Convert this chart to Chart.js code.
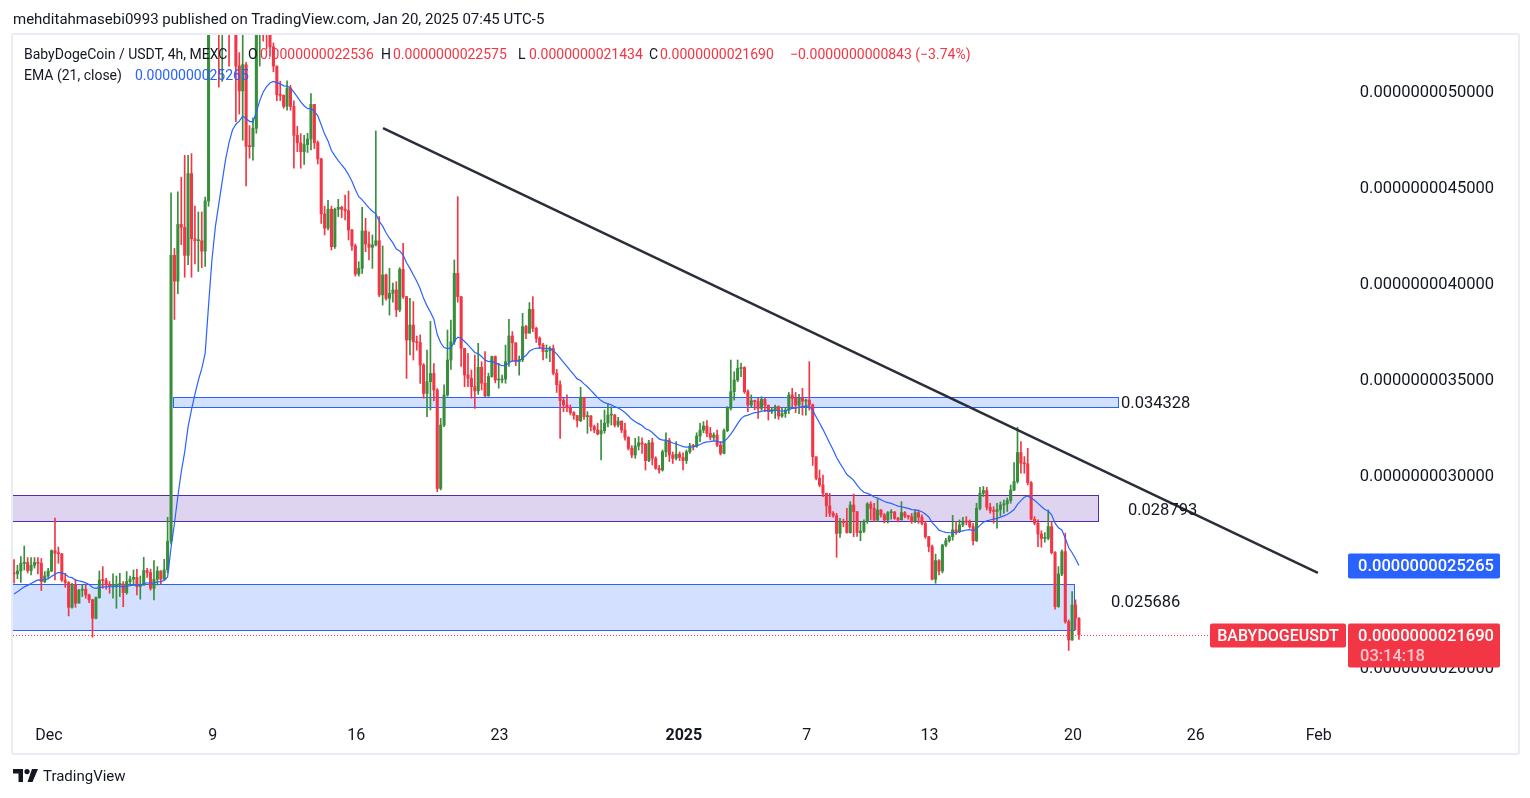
<!DOCTYPE html>
<html lang="en">
<head>
    <meta charset="UTF-8">
    <title>BabyDogeCoin / USDT, 4h, MEXC</title>
    <script src="https://cdn.jsdelivr.net/npm/chart.js"></script>
    <style>
        body {
            margin: 0;
            background-color: #fff;
            font-family: Roboto, Arial, sans-serif;
            color: #131722;
        }
        #wrap {
            position: relative;
            width: 1530px;
            height: 798px;
            overflow: hidden;
        }
        .pane {
            position: absolute;
            left: 11px;
            top: 33px;
            width: 1505px;
            height: 718px;
            border: 2px solid #e9ecf2;
            border-radius: 3px;
        }
        canvas {
            position: absolute;
            left: 0;
            top: 0;
        }
        .hdr {
            position: absolute;
            left: 13px;
            top: 10px;
            font-size: 15px;
            white-space: nowrap;
        }
        .lg {
            position: absolute;
            font-size: 14px;
            line-height: 20px;
            white-space: nowrap;
        }
        .r { color: #f23645; }
        .b { color: #2962ff; }
        .footer {
            position: absolute;
            left: 13px;
            top: 767px;
            font-size: 15px;
            white-space: nowrap;
        }
        .footer svg {
            vertical-align: -1px;
            margin-right: 5px;
        }
    </style>
</head>
<body>
<div id="wrap">
    <div class="pane"></div>
    <canvas id="chart" width="1530" height="798"></canvas>
    <div class="hdr">mehditahmasebi0993 published on TradingView.com, Jan 20, 2025 07:45 UTC-5</div>
    <div class="lg" style="left:24px;top:44px">BabyDogeCoin / USDT, 4h, MEXC</div>
    <div class="lg" style="left:248px;top:44px">O</div>
    <div class="lg r" style="left:260px;top:44px">0.0000000022536</div>
    <div class="lg" style="left:381px;top:44px">H</div>
    <div class="lg r" style="left:393px;top:44px">0.0000000022575</div>
    <div class="lg" style="left:518px;top:44px">L</div>
    <div class="lg r" style="left:529px;top:44px">0.0000000021434</div>
    <div class="lg" style="left:649px;top:44px">C</div>
    <div class="lg r" style="left:660px;top:44px">0.0000000021690</div>
    <div class="lg r" style="left:790px;top:44px">&minus;0.0000000000843 (&minus;3.74%)</div>
    <div class="lg" style="left:24px;top:65px">EMA (21, close)</div>
    <div class="lg b" style="left:135px;top:65px">0.0000000025265</div>
    <div class="footer"><svg width="25" height="13" viewBox="0 0 25 13"><path d="M0 0H10V13H5.5V4.5H0Z" fill="#131722"/><circle cx="14" cy="2.6" r="2.6" fill="#131722"/><path d="M19 0H25L19.5 13H14.5Z" fill="#131722"/></svg>TradingView</div>
</div>
<script>
    // prices are in units of 0.00000000001 USDT
    const UNIT = 1e-11;

    // 4h candles, x in days from 1 Dec 2024 (first candle 29 Nov 07:00, UTC-5)
    const firstCandle = -1.7083;
    const candleStep = 1 / 6;
    const firstOpen = 249;

    const closes = [
        248.5, 250, 254, 254.4, 250.2, 253, 254.4, 254, 244.5, 247.4,
        250, 260.6, 259.3, 259, 245.3, 244, 231.1, 243, 233.2, 240,
        240.5, 237.5, 235, 225.4, 236.1, 245.3, 245, 243, 242, 242.5,
        243, 243.2, 238.7, 244.5, 245.8, 246.7, 241.9, 242.5, 250.2, 249.2,
        241, 245.7, 250, 245.7, 250.6, 265.5, 414.4, 401, 430.5, 429,
        414.4, 457, 423, 422, 422, 416.6, 442.8, 640, 650, 600,
        560, 570, 580, 560, 545, 513, 500, 513.7, 471.2, 471,
        480.6, 540, 555, 545, 530, 523, 513, 498, 497.7, 492,
        501.5, 492, 476.9, 473, 468.4, 472.1, 475, 493, 473.1, 464.6,
        436, 428.6, 438.4, 418.9, 438.4, 439.4, 438.4, 437.7, 427.6, 419.3,
        404.7, 407.6, 427.1, 420.3, 418.6, 419.8, 422, 393.8, 404.2, 392,
        394.6, 396.4, 386, 407.1, 392.9, 370.3, 378.1, 369.4, 369, 357.3,
        342.5, 348.6, 352.9, 344.3, 293, 326, 341.7, 359.9, 369.4, 405,
        392.9, 366, 352.1, 350.4, 346, 343.8, 356.1, 347.8, 341.2, 351.3,
        361.7, 349.5, 349.5, 350, 359, 372.4, 368.8, 359.1, 360, 377.3,
        373.8, 386.3, 376.4, 371.2, 367.7, 364.3, 364.8, 366, 353, 347,
        338.8, 336.5, 335, 332.5, 331, 328.3, 340.5, 330.4, 330.8, 325.2,
        323.5, 321.4, 323.1, 327, 331.2, 331.2, 326, 328.1, 323.4, 319.6,
        313.9, 310.4, 315.1, 316.8, 316, 307.5, 316.8, 308.7, 303.5, 302.6,
        312.1, 317.9, 310.4, 308.7, 310.9, 309.2, 307.5, 312.1, 315.1, 314.9,
        320.3, 323.4, 325.5, 321.7, 319.6, 320.8, 315.6, 311.3, 323.1, 334.7,
        343.4, 349.5, 355.5, 356, 343.4, 336.4, 338.7, 338.3, 334.7, 339.4,
        336.4, 333, 334, 335.6, 330.7, 332, 333.8, 341.7, 339.9, 336.4,
        340, 338.5, 339, 336.5, 309.5, 298.3, 294.8, 290.5, 283.9, 280,
        278.8, 269.6, 275.7, 275.2, 270, 284.4, 280.9, 270, 270.8, 275.7,
        284.9, 282.6, 276.6, 281.8, 279.2, 276.6, 280.4, 280.8, 277.4, 276.6,
        280.4, 278.6, 278.3, 275.7, 280.4, 278, 274.8, 267.9, 262.7, 245.7,
        255.4, 250, 263.5, 265.8, 267.9, 271.4, 270.5, 274, 275.7, 275.5,
        273.1, 265.8, 282.7, 290.5, 291.9, 283.2, 281.5, 281, 282, 284.4,
        285, 286.7, 292.2, 296.6, 311.7, 306.1, 305.8, 296, 277, 274.9,
        269.3, 267, 267, 273.1, 259.6, 231.5, 248.5, 260.1, 223.6, 214.1,
        232.3, 225.36, 216.9
    ];

    const highs = [
        256, 253, 257.5, 263, 257, 257, 257, 257, 256.5, 249.7,
        251.4, 261, 277.5, 262.5, 259, 248.8, 244.5, 243.6, 245.7, 240.5,
        243, 242.7, 238, 235.3, 236.5, 250, 252.3, 246.2, 244.5, 248.5,
        247.4, 248.8, 244.5, 249.7, 247.4, 250.5, 250.9, 247.4, 257.1, 251.4,
        251, 255.4, 252.3, 250.2, 256.1, 278, 447, 418, 447.5, 455,
        466.5, 466.5, 467.4, 440, 437, 437, 444.7, 660, 690, 660,
        610, 600, 610, 595, 575, 560, 520, 530, 515, 482,
        486, 575, 590, 570, 548, 535, 525, 513, 505, 498,
        505.3, 503, 494.9, 481.6, 477.8, 476.9, 478, 498.7, 493, 474,
        465, 440, 443, 440, 439, 443.6, 440, 445.8, 447.9, 428,
        420.3, 411.1, 439.4, 433.7, 426.7, 425, 479.2, 434.6, 419.3, 404.7,
        407.6, 400, 400.7, 408, 420.7, 393, 392, 390.3, 372.4, 373,
        358, 365, 380, 358, 345, 329.5, 347, 375.5, 380.7, 412,
        445, 393, 366, 363.4, 354.7, 362.5, 368.6, 359, 364.3, 353,
        362, 362, 358.2, 352, 367.7, 381.1, 374.7, 369, 362, 384.2,
        378, 389.8, 392.9, 377, 372, 368.6, 367.7, 366.9, 367.7, 355,
        349, 340, 341.7, 336.5, 333, 331, 345.7, 340.5, 333, 331,
        326, 326.9, 328.7, 333.9, 337.3, 335.6, 331.6, 330, 328.1, 326.9,
        320, 315.3, 319.1, 320, 319.4, 316.5, 318, 319.1, 309.5, 305,
        313, 322, 319.1, 312, 317.4, 312, 311.6, 313, 316.5, 316,
        322, 326.9, 327.8, 328.3, 324.8, 322, 323.4, 317.4, 324, 335.6,
        359.9, 353.8, 359.9, 358.1, 356.4, 344.3, 341.7, 339, 339.9, 340.8,
        339.9, 336.4, 335, 336.4, 336, 335, 335, 343, 345.1, 343,
        342, 345.1, 339.5, 359, 337, 309.5, 302.6, 300, 290.4, 290.4,
        281, 280, 277.4, 277, 282.6, 286.1, 290.1, 281, 275.7, 276.6,
        285.6, 286.1, 285.2, 287.3, 282, 280, 281, 282, 280.9, 278,
        286.1, 280.9, 279, 280, 281.8, 281.8, 279.2, 275.7, 268, 263.5,
        258.8, 256, 264, 267, 268.5, 279, 275.7, 276.6, 278, 278.3,
        276.6, 274.8, 285.3, 293.6, 294, 293.6, 285.3, 283.5, 285.3, 286,
        287, 288, 294.8, 306.5, 324.9, 317.4, 309.6, 313.9, 296.6, 278.3,
        276.6, 271, 270, 281.8, 275.7, 260.1, 252.3, 261, 269.7, 224.5,
        239.3, 235, 225.75
    ];

    const lows = [
        243.6, 246, 244, 250.5, 249, 248, 251.5, 248.5, 239.8, 243.9,
        246.2, 249.7, 245.3, 254, 244.5, 241.5, 226.6, 230.6, 231.1, 233.5,
        236.7, 235.8, 233.5, 215.5, 225, 235.8, 241, 240.5, 238.4, 235.8,
        230.6, 236.7, 231.4, 237.9, 242.7, 242.7, 237.5, 235.3, 243.2, 246.7,
        240, 235, 242.7, 243, 245.3, 249, 264, 381, 394.5, 420,
        403, 409.6, 403, 410, 406, 408, 408.7, 440, 620, 585,
        502, 505, 550, 513, 530, 484, 488, 474.4, 450.5, 465,
        464, 478, 513, 526, 522, 518, 510, 495, 495, 491,
        490, 490, 459.8, 468.4, 459.8, 461.7, 468, 469.3, 470, 462,
        431, 425, 427.6, 417.2, 418, 434.6, 434, 432.8, 422.4, 417,
        403.6, 403.6, 405, 416.3, 412, 407.6, 419.3, 392.9, 388.5, 391,
        383.3, 390, 382.5, 385, 392, 350.3, 362.5, 359.9, 365, 347.7,
        340, 330.4, 333.9, 338.7, 291.3, 292.2, 325.2, 341, 355, 368,
        390, 356.5, 346, 346, 340, 334.7, 342, 344.3, 340.8, 341,
        351, 348, 345.2, 348, 347.8, 356.5, 359.1, 357, 352, 359,
        371, 375.5, 374.7, 369, 366, 360, 360.8, 359, 352.1, 343,
        319.1, 333, 333, 331.3, 329, 325, 327.8, 329, 321.7, 323,
        322, 320.9, 307.9, 321.8, 325, 326, 325, 325, 322, 318.2,
        313, 309, 308.7, 313, 311.3, 302.6, 307, 305.2, 303, 301,
        302, 309.5, 307, 306, 307.8, 307.5, 302.6, 306, 311.3, 313,
        314.4, 317.4, 322, 320, 318.2, 318, 314.8, 310.4, 311, 322.6,
        333.8, 339, 348.6, 351.2, 342.5, 333, 335.6, 334, 329.5, 333.8,
        333, 328.6, 332, 329.5, 329, 330, 330, 332, 335.6, 332.5,
        332, 331.2, 331.2, 333.8, 305, 297.4, 293.9, 288.7, 278.3, 278.3,
        278, 257.1, 267.5, 273, 269.7, 269.7, 267.9, 268, 265.8, 270,
        274.8, 276.6, 275.7, 275.7, 278, 275, 275, 277, 276.9, 275.5,
        276.6, 277.6, 277, 274.8, 275.2, 274.8, 274, 267, 260, 245.3,
        243.6, 248, 249, 262.7, 265, 266, 269, 270, 273.1, 274,
        272.3, 263.6, 265.3, 281.8, 288.8, 281.8, 280.1, 274.9, 272.3, 278.7,
        280, 281, 285.3, 291.9, 295.7, 300.9, 300.9, 294.8, 276.6, 274,
        262.7, 262.4, 265, 266.2, 258.9, 230.1, 231.1, 247.6, 222.8, 208.6,
        213.8, 219.3, 214.34
    ];

    // EMA (21, close) value at the left edge of the picture, and in the legend
    const emaSeed = 237;
    const emaLast = 252.65;

    // x axis
    const xTickDays = [0, 8, 15, 22, 31, 37, 43, 50, 56, 62];
    const xTickLabels = ['Dec', '9', '16', '23', '2025', '7', '13', '20', '26', 'Feb'];
    // y axis
    const yTicks = [200, 250, 300, 350, 400, 450, 500];

    // drawn trend line
    const trendX = [16.31, 61.96];
    const trendY = [480.7, 249.0];

    // rectangles
    const zoneFrom = [6.05, -5, -5];
    const zoneTo = [52.2, 51.22, 50.05];
    const zoneHigh = [340.6, 289.6, 243.2];
    const zoneLow = [335.4, 276.0, 219.3];
    const zoneText = ['0.034328', '0.028793', '0.025686'];

    const zoneFill = ['rgba(41,98,255,0.2)', 'rgba(103,58,183,0.22)', 'rgba(41,98,255,0.2)'];
    const zoneLine = ['#2962ff', '#512da8', '#2962ff'];
    const zoneTextDx = [3, 30, 37];
    const zoneTextDy = [2, 3, -4];

    const UP = '#388e3c';
    const DOWN = '#f23645';

    const opens = closes.map((c, i) => i === 0 ? firstOpen : closes[i - 1]);
    const days = closes.map((c, i) => firstCandle + i * candleStep);
    const colors = closes.map((c, i) => c >= opens[i] ? UP : DOWN);

    const ema = [];
    let e = emaSeed;
    closes.forEach(c => {
        e += (c - e) * 2 / 22;
        ema.push(e);
    });

    const fmt = v => (v * UNIT).toFixed(13);
    const FONT = 'Roboto, Arial, sans-serif';

    function box(ctx, x, y, w, h, color) {
        ctx.fillStyle = color;
        ctx.beginPath();
        ctx.roundRect(x, y, w, h, 2);
        ctx.fill();
    }

    const overlay = {
        id: 'overlay',
        beforeDatasetsDraw(chart) {
            const ctx = chart.ctx;
            const a = chart.chartArea;
            const xs = chart.scales.x, ys = chart.scales.y;
            ctx.save();
            ctx.beginPath();
            ctx.rect(a.left, a.top, a.right - a.left, a.bottom - a.top);
            ctx.clip();
            zoneFrom.forEach((f, i) => {
                const x1 = Math.round(xs.getPixelForValue(f)) + 0.5;
                const x2 = Math.round(xs.getPixelForValue(zoneTo[i])) + 0.5;
                const y1 = Math.round(ys.getPixelForValue(zoneHigh[i])) + 0.5;
                const y2 = Math.round(ys.getPixelForValue(zoneLow[i])) + 0.5;
                ctx.fillStyle = zoneFill[i];
                ctx.fillRect(x1, y1, x2 - x1, y2 - y1);
                ctx.strokeStyle = zoneLine[i];
                ctx.lineWidth = 1;
                ctx.strokeRect(x1, y1, x2 - x1, y2 - y1);
            });
            ctx.restore();
        },
        afterDraw(chart) {
            const ctx = chart.ctx;
            const a = chart.chartArea;
            const xs = chart.scales.x, ys = chart.scales.y;
            ctx.save();

            // zone labels
            ctx.font = '16.5px ' + FONT;
            ctx.fillStyle = '#131722';
            ctx.textBaseline = 'middle';
            ctx.textAlign = 'left';
            zoneText.forEach((t, i) => {
                const x = xs.getPixelForValue(zoneTo[i]) + zoneTextDx[i];
                const y = (ys.getPixelForValue(zoneHigh[i]) + ys.getPixelForValue(zoneLow[i])) / 2 + zoneTextDy[i];
                ctx.fillText(t, x, y);
            });

            // last price line and labels
            const last = closes[closes.length - 1];
            const py = Math.round(ys.getPixelForValue(last)) + 0.5;
            ctx.strokeStyle = DOWN;
            ctx.lineWidth = 1;
            ctx.setLineDash([1, 2]);
            ctx.beginPath();
            ctx.moveTo(a.left, py);
            ctx.lineTo(1210, py);
            ctx.stroke();
            ctx.setLineDash([]);

            box(ctx, 1210, py - 12, 136, 24, DOWN);
            ctx.fillStyle = '#fff';
            ctx.textAlign = 'center';
            ctx.font = '500 16px ' + FONT;
            ctx.fillText('BABYDOGEUSDT', 1278, py + 1);

            box(ctx, a.right, py - 12, 152, 44, DOWN);
            ctx.textAlign = 'right';
            ctx.font = '500 16.5px ' + FONT;
            ctx.fillStyle = '#fff';
            ctx.fillText(fmt(last), ys.right, py + 1);
            ctx.textAlign = 'left';
            ctx.fillStyle = 'rgba(255,255,255,0.72)';
            ctx.fillText('03:14:18', a.right + 12, py + 21);

            // EMA label
            const ey = ys.getPixelForValue(emaLast);
            box(ctx, a.right, ey - 12.5, 152, 25, '#2962ff');
            ctx.fillStyle = '#fff';
            ctx.textAlign = 'right';
            ctx.fillText(fmt(emaLast), ys.right, ey + 1);

            ctx.restore();
        }
    };

    const ctx = document.getElementById('chart').getContext('2d');
    new Chart(ctx, {
        type: 'bar',
        data: {
            datasets: [
                {
                    type: 'line',
                    data: trendX.map((x, i) => ({ x: x, y: trendY[i] })),
                    borderColor: '#2a2e39',
                    borderWidth: 2.5,
                    pointRadius: 0
                },
                {
                    type: 'line',
                    data: days.map((d, i) => ({ x: d, y: ema[i] })),
                    borderColor: '#2962ff',
                    borderWidth: 1.2,
                    pointRadius: 0
                },
                {
                    // candle bodies
                    data: days.map((d, i) => ({ x: d, y: [opens[i], closes[i]] })),
                    backgroundColor: colors,
                    barThickness: 2.4,
                    minBarLength: 1,
                    grouped: false
                },
                {
                    // wicks
                    data: days.map((d, i) => ({ x: d, y: [lows[i], highs[i]] })),
                    backgroundColor: colors,
                    barThickness: 1,
                    grouped: false
                }
            ]
        },
        options: {
            responsive: false,
            animation: false,
            devicePixelRatio: 1,
            layout: {
                padding: { left: 13, top: 35, right: 36, bottom: 38 }
            },
            plugins: {
                legend: { display: false },
                tooltip: { enabled: false }
            },
            scales: {
                x: {
                    type: 'linear',
                    offset: false,
                    min: -1.758,
                    max: 63.43,
                    grid: { display: false, drawTicks: false, offset: false },
                    border: { display: false },
                    afterBuildTicks: s => { s.ticks = xTickDays.map(v => ({ value: v })); },
                    afterFit: s => { s.height = 45; },
                    ticks: {
                        autoSkip: false,
                        maxRotation: 0,
                        padding: 11,
                        color: '#131722',
                        font: c => ({
                            family: FONT,
                            size: 16,
                            weight: xTickLabels[c.index] === '2025' ? 'bold' : 'normal'
                        }),
                        callback: (v, i) => xTickLabels[i]
                    }
                },
                y: {
                    position: 'right',
                    min: 175,
                    max: 529.17,
                    grid: { display: false, drawTicks: false },
                    border: { display: false },
                    afterBuildTicks: s => { s.ticks = yTicks.map(v => ({ value: v })); },
                    afterFit: s => { s.width = 146; },
                    ticks: {
                        crossAlign: 'far',
                        labelOffset: 2,
                        color: '#131722',
                        font: { family: FONT, size: 16.5 },
                        callback: v => fmt(v)
                    }
                }
            }
        },
        plugins: [overlay]
    });
</script>
</body>
</html>
